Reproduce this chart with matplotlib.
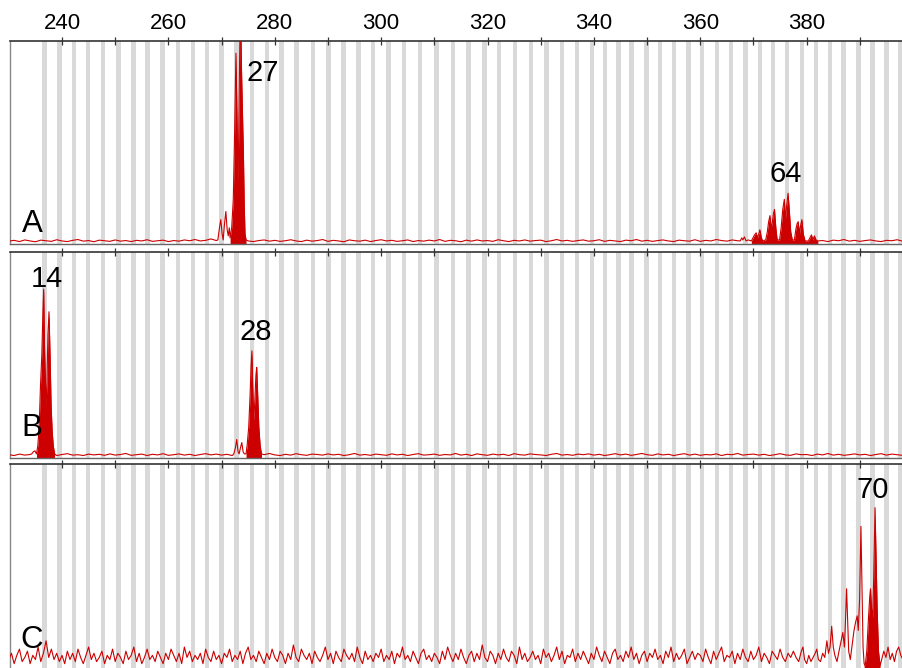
import numpy as np
import matplotlib.pyplot as plt

plt.rcParams['font.family'] = ['Liberation Sans', 'DejaVu Sans']

RED = "#cc0000"

# allele bin centres (bp), drawn as grey bands
bins = [236.7, 239.5, 242.3, 244.9, 247.7, 250.6, 253.4, 256.1, 258.9, 261.8,
        264.6, 267.3, 270.0, 272.8, 275.7, 278.5, 281.3, 284.1, 287.2, 290.1,
        292.9, 295.7, 298.5, 301.4, 304.3, 307.3, 310.4, 313.5, 316.4, 319.4,
        322.2, 325.2, 328.2, 331.1, 334.0, 336.8, 339.6, 342.1, 344.6, 347.1,
        349.9, 352.4, 355.1, 357.8, 360.3, 363.1, 365.8, 368.5, 371.2, 373.7,
        376.3, 379.1, 381.8, 384.4, 386.9, 389.7, 392.4, 395.0, 397.5]

# baseline noise, panel A and B: 1 bp steps from 230, thousandths of panel height
noise_a = [14, 18, 12, 20, 15, 11, 19, 16, 13, 21,
           15, 12, 18, 22, 14, 17, 11, 19, 16, 13,
           20, 14, 17, 12, 18, 15, 21, 13, 16, 19,
           12, 17, 14, 20, 16, 22, 15, 18, 25, 17,
           16, 14, 19, 13, 18, 15, 12, 17, 20, 14,
           18, 13, 16, 21, 15, 12, 19, 14, 17, 22,
           13, 18, 15, 11, 20, 16, 14, 19, 12, 17,
           21, 15, 18, 13, 16, 20, 12, 17, 14, 19,
           15, 22, 13, 18, 16, 11, 19, 14, 20, 15,
           17, 13, 21, 16, 12, 18, 15, 20, 14, 17,
           19, 12, 16, 22, 15, 18, 13, 17, 20, 14,
           16, 21, 13, 18, 15, 12, 19, 16, 22, 14,
           18, 13, 17, 20, 15, 12, 19, 16, 14, 21,
           13, 18, 15, 22, 17, 14, 20, 16, 19, 15,
           17, 13, 19, 15, 18, 14, 20, 16, 13, 18,
           15, 21, 14, 17, 12, 19, 16, 22, 14, 18,
           13, 17, 20, 15, 12, 18, 16, 21, 14]
noise_b = [16, 12, 19, 14, 17, 13, 20, 15, 18, 12,
           17, 21, 14, 16, 12, 19, 15, 18, 13, 20,
           14, 17, 22, 13, 16, 19, 12, 18, 15, 21,
           13, 16, 20, 14, 18, 12, 17, 21, 15, 19,
           14, 18, 12, 17, 20, 15, 13, 19, 16, 22,
           15, 12, 18, 14, 21, 16, 13, 19, 17, 14,
           20, 15, 18, 12, 16, 22, 14, 17, 13, 19,
           16, 13, 20, 15, 18, 12, 17, 21, 14, 16,
           19, 13, 17, 15, 22, 14, 18, 12, 20, 16,
           13, 19, 15, 18, 12, 21, 16, 14, 20, 17,
           15, 12, 18, 22, 14, 17, 13, 19, 16, 20,
           14, 18, 12, 16, 21, 15, 19, 13, 17, 22,
           16, 13, 20, 15, 18, 12, 17, 21, 14, 19,
           13, 17, 15, 20, 12, 18, 16, 22, 14, 17,
           19, 14, 18, 12, 16, 21, 15, 13, 20, 16,
           17, 12, 19, 15, 22, 14, 18, 13, 16, 20,
           15, 18, 12, 17, 21, 14, 19, 16, 13]
# panel C noise: 0.5 bp steps from 230, hundredths of panel height
noise_c = [6, 9, 4, 8, 11, 5, 7, 10, 4, 8, 6, 12, 5, 9, 15, 7, 11, 6, 9, 5,
           8, 4, 10, 6, 9, 5, 11, 7, 4, 8, 12, 6, 9, 5, 7, 10, 4, 8, 6, 11,
           5, 9, 7, 4, 10, 6, 8, 12, 5, 9, 4, 7, 11, 6, 8, 5, 10, 7, 4, 9,
           6, 11, 8, 5, 9, 4, 12, 7, 10, 5, 8, 6, 9, 4, 11, 7, 5, 10, 6, 8,
           4, 9, 7, 11, 5, 8, 6, 10, 4, 9, 12, 6, 8, 5, 10, 7, 4, 9, 6, 11,
           7, 5, 10, 8, 4, 9, 6, 13, 7, 5, 11, 8, 6, 9, 4, 10, 7, 5, 8, 12,
           6, 9, 4, 10, 7, 5, 11, 8, 6, 9, 5, 12, 7, 4, 10, 6, 8, 5, 9, 7,
           11, 5, 8, 6, 10, 4, 9, 7, 12, 6, 8, 5, 10, 7, 4, 9, 11, 6, 8, 5,
           9, 7, 4, 10, 6, 12, 8, 5, 9, 6, 11, 7, 4, 8, 10, 5, 9, 6, 13, 7,
           5, 10, 8, 4, 9, 6, 11, 7, 5, 10, 8, 4, 12, 6, 9, 5, 7, 10, 6, 8,
           4, 11, 7, 9, 5, 8, 12, 6, 10, 4, 8, 7, 11, 5, 9, 6, 10, 7, 4, 9,
           6, 12, 8, 5, 10, 7, 4, 9, 11, 6, 8, 5, 10, 7, 12, 6, 9, 4, 8, 10,
           5, 9, 7, 11, 6, 8, 4, 10, 7, 12, 5, 9, 6, 8, 11, 4, 7, 10, 6, 9,
           8, 5, 11, 7, 4, 10, 6, 9, 12, 5, 8, 7, 10, 4, 9, 6, 11, 7, 5, 10,
           6, 8, 12, 5, 9, 7, 4, 10, 8, 6, 11, 7, 5, 9, 7, 10]

# peak regions (bp, fraction of panel height) and called window that gets filled
a27_x = [269.3, 269.6, 269.85, 270.1, 270.3, 270.55, 270.8, 271.05, 271.25, 271.45,
         271.6, 271.9, 272.2, 272.45, 272.7, 272.85, 273.0, 273.1, 273.25, 273.45,
         273.6, 273.75, 273.95, 274.1, 274.25, 274.4, 274.6]
a27_y = [0.02, 0.08, 0.12, 0.05, 0.02, 0.10, 0.16, 0.07, 0.04, 0.08,
         0.03, 0.08, 0.22, 0.55, 0.94, 0.70, 0.45, 0.30, 0.60, 1.05,
         1.08, 0.85, 0.61, 0.45, 0.20, 0.05, 0.02]
a27_call = (271.55, 274.6)

a64_x = [367.5, 367.8, 368.0, 368.3, 368.6, 369.0, 369.6, 369.9, 370.2, 370.5,
         370.75, 371.0, 371.2, 371.45, 371.7, 372.3, 372.6, 372.85, 373.1, 373.3,
         373.5, 373.75, 373.95, 374.2, 374.45, 374.9, 375.2, 375.5, 375.8, 376.0,
         376.2, 376.5, 376.75, 377.0, 377.3, 377.7, 377.95, 378.2, 378.4, 378.65,
         378.85, 379.1, 379.35, 379.7, 380.3, 380.6, 380.9, 381.15, 381.45, 381.75,
         382.1]
a64_y = [0.015, 0.03, 0.02, 0.035, 0.015, 0.02, 0.015, 0.03, 0.045, 0.055,
         0.03, 0.05, 0.07, 0.035, 0.015, 0.02, 0.06, 0.11, 0.14, 0.08,
         0.10, 0.15, 0.17, 0.08, 0.02, 0.02, 0.08, 0.17, 0.22, 0.12,
         0.18, 0.25, 0.16, 0.06, 0.02, 0.02, 0.07, 0.10, 0.11, 0.05,
         0.09, 0.12, 0.05, 0.015, 0.015, 0.03, 0.045, 0.02, 0.04, 0.02,
         0.015]
a64_call = (369.6, 382.1)

b14_x = [234.3, 234.6, 234.9, 235.2, 235.45, 235.7, 235.95, 236.2, 236.4, 236.55,
         236.7, 236.85, 237.0, 237.15, 237.35, 237.55, 237.75, 237.95, 238.15, 238.35,
         238.6]
b14_y = [0.02, 0.03, 0.035, 0.02, 0.06, 0.15, 0.35, 0.50, 0.70, 0.82,
         0.55, 0.40, 0.25, 0.35, 0.60, 0.71, 0.50, 0.25, 0.13, 0.06,
         0.02]
b14_call = (235.2, 238.6)

b28_x = [272.3, 272.6, 272.85, 273.1, 273.3, 273.55, 273.8, 274.05, 274.3, 274.6,
         274.8, 275.1, 275.35, 275.55, 275.7, 275.85, 276.05, 276.25, 276.45, 276.6,
         276.8, 277.0, 277.25, 277.5]
b28_y = [0.02, 0.05, 0.09, 0.03, 0.02, 0.05, 0.075, 0.03, 0.02, 0.02,
         0.06, 0.15, 0.30, 0.45, 0.52, 0.35, 0.18, 0.28, 0.40, 0.44,
         0.30, 0.15, 0.06, 0.02]
b28_call = (274.6, 277.5)

c70_x = [378.0, 378.5, 379.0, 379.3, 379.6, 380.0, 380.4, 380.8, 381.2, 381.6,
         381.9, 382.2, 382.6, 383.0, 383.4, 383.8, 384.1, 384.4, 384.7, 385.0,
         385.3, 385.7, 386.0, 386.4, 386.8, 387.1, 387.3, 387.5, 387.7, 387.9,
         388.2, 388.5, 388.9, 389.2, 389.5, 389.7, 389.95, 390.2, 390.4, 390.6,
         390.8, 391.0, 391.3, 391.6, 391.85, 392.0, 392.2, 392.4, 392.6, 392.85,
         393.05, 393.25, 393.5, 393.8, 394.1, 394.5, 394.9, 395.3, 395.7, 396.1,
         396.5, 396.9, 397.3, 397.7, 398.1]
c70_y = [0.07, 0.05, 0.10, 0.12, 0.06, 0.04, 0.08, 0.05, 0.07, 0.09,
         0.11, 0.06, 0.05, 0.09, 0.07, 0.15, 0.09, 0.12, 0.22, 0.12,
         0.08, 0.05, 0.09, 0.14, 0.19, 0.12, 0.25, 0.40, 0.25, 0.10,
         0.06, 0.12, 0.20, 0.24, 0.27, 0.20, 0.35, 0.70, 0.40, 0.12,
         0.04, 0.03, 0.10, 0.25, 0.36, 0.40, 0.30, 0.26, 0.45, 0.79,
         0.55, 0.30, 0.10, 0.03, 0.06, 0.10, 0.07, 0.12, 0.06, 0.09,
         0.05, 0.10, 0.12, 0.08, 0.06]
c70_call = (390.8, 393.8)

# peak size labels: text, bp, fraction of panel height
labels_a = [("27", 277.7, 0.84), ("64", 376.1, 0.345)]
labels_b = [("14", 237.1, 0.87), ("28", 276.4, 0.61)]
labels_c = [("70", 392.5, 0.875)]

XMIN, XMAX = 230.22, 398.11


def build_trace(noise, start, step, scale, peaks):
    nx = start + step * np.arange(len(noise))
    ny = np.array(noise) / scale
    keep = np.ones(len(nx), bool)
    xs, ys = [], []
    for px, py, _ in peaks:
        keep &= ~((nx >= px[0]) & (nx <= px[-1]))
        xs.append(px)
        ys.append(py)
    x = np.concatenate([nx[keep]] + [np.array(v) for v in xs])
    y = np.concatenate([ny[keep]] + [np.array(v) for v in ys])
    order = np.argsort(x)
    return x[order], y[order]


def draw_panel(ax, noise, start, step, scale, peaks, labels, letter, letter_y, show_labels):
    for b in bins:
        ax.axvspan(b - 0.42, b + 0.42, color="#d9d9d9", lw=0, zorder=0)
    x, y = build_trace(noise, start, step, scale, peaks)
    for px, py, (lo, hi) in peaks:
        px, py = np.array(px), np.array(py)
        sel = (px >= lo) & (px <= hi)
        ax.fill_between(px[sel], 0, py[sel], color=RED, lw=0, zorder=2)
    ax.plot(x, y, color=RED, lw=0.8, zorder=3)
    for txt, lx, ly in labels:
        ax.text(lx, ly, txt, fontsize=21, ha="center", va="center", zorder=4)
    ax.text(0.0246, letter_y, letter, transform=ax.transAxes, fontsize=22.5,
            ha="center", va="center", zorder=4)

    ax.set_xlim(XMIN, XMAX)
    ax.set_ylim(0, 1)
    ax.set_yticks([])
    ax.xaxis.tick_top()
    ax.set_xticks(range(240, 400, 20))
    ax.set_xticks(range(250, 400, 20), minor=True)
    ax.tick_params(axis="x", which="both", direction="inout", length=6, width=0.9,
                   color="#333333", labelsize=16, pad=2, labeltop=show_labels)
    ax.spines["right"].set_visible(False)
    ax.spines["top"].set_color("#333333")
    ax.spines["top"].set_linewidth(1.2)
    ax.spines["bottom"].set_color("#666666")
    ax.spines["bottom"].set_linewidth(1.0)
    ax.spines["left"].set_color("#888888")
    ax.spines["left"].set_linewidth(1.0)


fig = plt.figure(figsize=(9.03, 6.68), dpi=100)
W, H = 903, 668
left = 10 / W
width = 1 - left
ax_a = fig.add_axes([left, 1 - 244 / H, width, 203 / H])
ax_b = fig.add_axes([left, 1 - 458 / H, width, 206 / H])
ax_c = fig.add_axes([left, 1 - 672 / H, width, 208 / H])

draw_panel(ax_a, noise_a, 230, 1.0, 1000.0,
           [(a27_x, a27_y, a27_call), (a64_x, a64_y, a64_call)],
           labels_a, "A", 0.099, True)
draw_panel(ax_b, noise_b, 230, 1.0, 1000.0,
           [(b14_x, b14_y, b14_call), (b28_x, b28_y, b28_call)],
           labels_b, "B", 0.146, False)
draw_panel(ax_c, noise_c, 230, 0.5, 100.0,
           [(c70_x, c70_y, c70_call)],
           labels_c, "C", 0.154, False)

fig.savefig("out.png", dpi=100)
